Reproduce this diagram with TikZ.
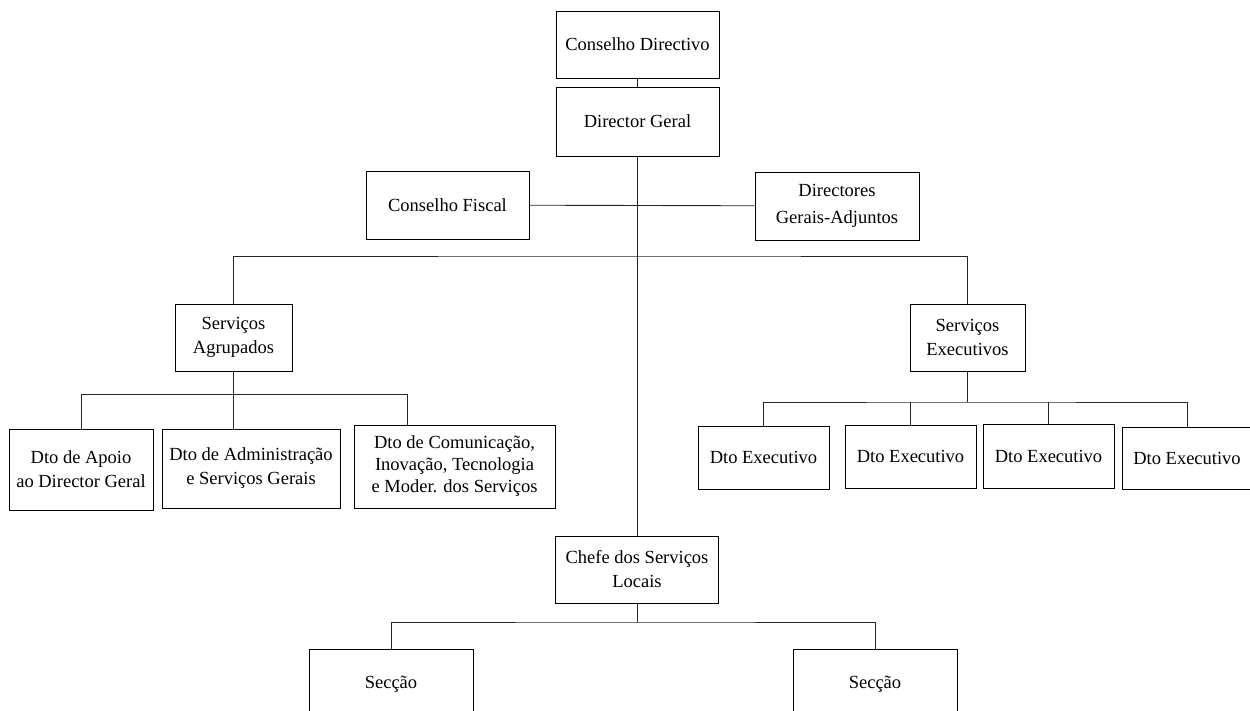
\documentclass[tikz,border=0pt]{standalone}
\usepackage{fontspec}
\setmainfont{Liberation Serif}
\tikzset{orgbox/.style={draw=black,line width=0.9pt,fill=white,inner sep=0pt,align=center,font=\fontsize{18.5}{24}\selectfont}}
\tikzset{orgline/.style={draw=black!85,line width=0.9pt}}

\begin{document}
\begin{tikzpicture}[x=1pt,y=-1pt]
\useasboundingbox (0,0) rectangle (1250,711);
\fill[white] (0,0) rectangle (1250,711);
% Drawing boxes
% Top: council and director
\node[orgbox,minimum width=163pt,minimum height=67pt] (cd) at (637.5,44.5) {Conselho Directivo};
\node[orgbox,minimum width=163pt,minimum height=69pt] (dg) at (637.5,121.5) {Director Geral};
\node[orgbox,minimum width=163pt,minimum height=68pt] (cf) at (447.5,205) {Conselho Fiscal};
\node[orgbox,minimum width=164pt,minimum height=68pt,font=\fontsize{18.5}{27}\selectfont] (dga) at (837,206) {Directores\\Gerais-Adjuntos};
% Grouped and executive services
\node[orgbox,minimum width=117pt,minimum height=67pt] (sa) at (233.5,337.5) {Serviços\\Agrupados};
\node[orgbox,minimum width=115pt,minimum height=67pt] (se) at (967.5,337.5) {Serviços\\Executivos};
\node[orgbox,minimum width=144pt,minimum height=81pt] (d1) at (81,469.5) {Dto de Apoio\\ao Director Geral};
\node[orgbox,minimum width=178pt,minimum height=79pt] (d2) at (251,468.5) {Dto de Administração\\e Serviços Gerais};
\node[orgbox,minimum width=201pt,minimum height=83pt,font=\fontsize{18.5}{22}\selectfont] (d3) at (454.5,466.5) {Dto de Comunicação,\\Inovação, Tecnologia\\e Moder. dos Serviços};
\node[orgbox,minimum width=131pt,minimum height=63pt] (e1) at (763.5,457.5) {Dto Executivo};
\node[orgbox,minimum width=131pt,minimum height=63pt] (e2) at (910.5,456.5) {Dto Executivo};
\node[orgbox,minimum width=131pt,minimum height=64pt] (e3) at (1048.5,456) {Dto Executivo};
\node[orgbox,minimum width=130pt,minimum height=62pt] (e4) at (1187,458) {Dto Executivo};
% Local services
\node[orgbox,minimum width=163pt,minimum height=67pt] (ch) at (637,569.5) {Chefe dos Serviços\\Locais};
\node[orgbox,minimum width=164pt,minimum height=70pt] (s1) at (391,684) {Secção};
\node[orgbox,minimum width=164pt,minimum height=70pt] (s2) at (875,684) {Secção};
% Done with boxes; drawing lines
\coordinate (jT) at (638,256);
\coordinate (jA) at (233.5,394);
\coordinate (jA3) at (407,394);
\coordinate (jE) at (967.5,402);
\coordinate (jC) at (637,622);
\draw[orgline] (cd) -- (dg);
\draw[orgline] (dg.south) -- (dg.south |- ch.north);
\draw[orgline] (cf) -- (dga);
\draw[orgline] (sa.north) |- (jT) -| (se.north);
\draw[orgline] (sa.south) -- (jA) -- (jA |- d2.north);
\draw[orgline] (d1.north) |- (jA3) -- (jA3 |- d3.north);
\draw[orgline] (se.south) -- (jE);
\draw[orgline] (e1.north) |- (jE) -| (e4.north);
\foreach \n in {e2,e3}
  \draw[orgline] (\n.north) -- (\n.north |- jE);
\draw[orgline] (ch.south) -- (jC);
\draw[orgline] (s1.north) |- (jC) -| (s2.north);
% Done with lines
\end{tikzpicture}
\end{document}
